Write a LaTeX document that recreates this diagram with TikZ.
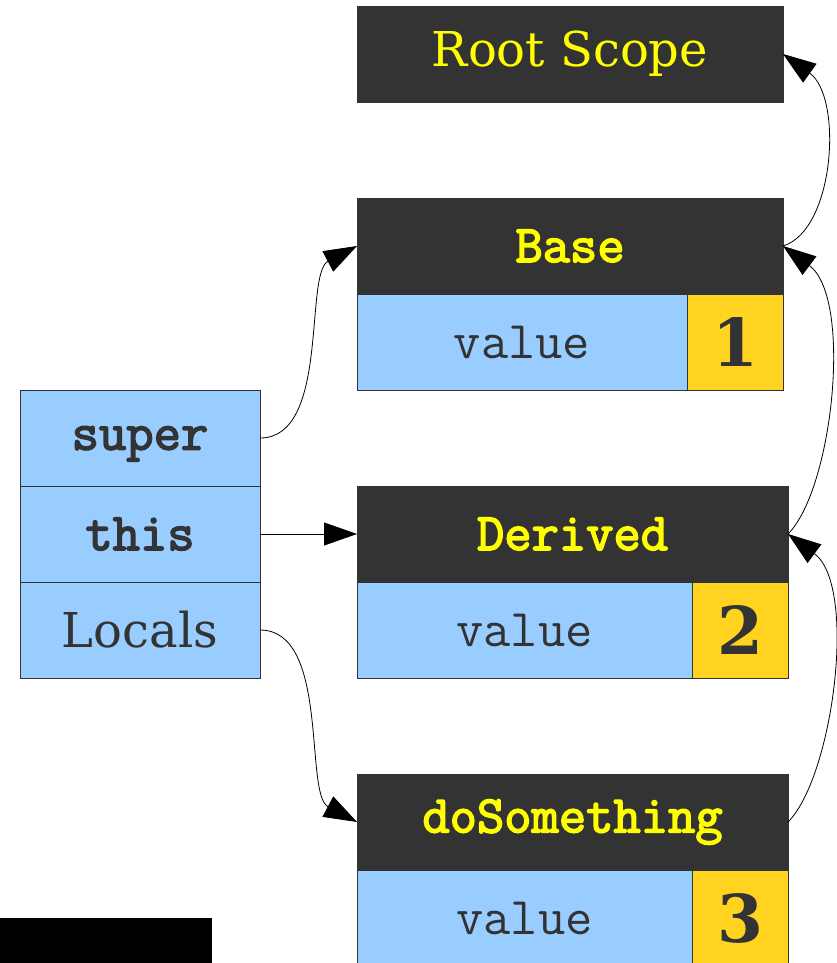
\documentclass[tikz,border=0pt]{standalone}
\usepackage{fontspec}
\setmainfont{DejaVu Serif}
\setmonofont{Latin Modern Mono}[BoldFont={Latin Modern Mono}, BoldFeatures={FakeBold=3}]
\definecolor{scopegray}{HTML}{333333}
\definecolor{slotblue}{HTML}{99CCFF}
\definecolor{valyellow}{HTML}{FFD320}
\definecolor{nameyellow}{HTML}{FFFF00}
\usetikzlibrary{arrows.meta, positioning}
\tikzset{
	scopehead/.style={rectangle, draw=black!80, fill=scopegray, line width=0.8pt, inner sep=0pt, outer sep=0pt, minimum width=426pt, minimum height=96pt, text=nameyellow, font=\ttfamily\bfseries\fontsize{53}{60}\selectfont},
	widehead/.style={scopehead, minimum width=431pt},
	slot/.style={rectangle, draw=black!80, fill=slotblue, line width=0.8pt, inner sep=0pt, outer sep=0pt, minimum width=240pt, minimum height=96pt, text=scopegray, font=\ttfamily\bfseries\fontsize{53}{60}\selectfont},
	valslot/.style={slot, minimum width=330pt, font=\ttfamily\fontsize{53}{60}\selectfont},
	numslot/.style={slot, fill=valyellow, minimum width=96pt, font=\rmfamily\bfseries\fontsize{66}{78}\selectfont},
	link/.style={-{Triangle[length=33pt, width=23pt]}, line width=0.8pt, draw=black},
}
\begin{document}
\begin{tikzpicture}[x=1pt, y=-1pt]
	\useasboundingbox (0,0) rectangle (837,963);
	% scope chain
	\node[scopehead, font=\rmfamily\fontsize{48}{58}\selectfont] (root) at (570,54) {Root Scope};
	\node[scopehead, below right=96pt and 0pt of root.south west] (base) {Base};
	\node[valslot, below right=0pt and 0pt of base.south west] (basevalue) {value};
	\node[numslot, right=0pt of basevalue] (basenum) {1};
	\node[widehead, below right=96pt and 0pt of basevalue.south west] (derived) {Derived};
	\node[valslot, minimum width=335pt, below right=0pt and 0pt of derived.south west] (derivedvalue) {value};
	\node[numslot, right=0pt of derivedvalue] (derivednum) {2};
	\node[widehead, below right=96pt and 0pt of derivedvalue.south west] (dosomething) {doSomething};
	\node[valslot, minimum width=335pt, below right=0pt and 0pt of dosomething.south west] (dosomethingvalue) {value};
	\node[numslot, right=0pt of dosomethingvalue] (dosomethingnum) {3};
	% context
	\node[slot, text depth=0pt, anchor=north west] (super) at (20,390) {super};
	\node[slot, below=0pt of super] (this) {this};
	\node[slot, below=0pt of this, font=\rmfamily\fontsize{48}{58}\selectfont] (locals) {Locals};
	\fill[black] (0,918) rectangle (212,963);
	\draw[link] (super.east) .. controls +(70,0) and +(-53,28) .. (base.west);
	\draw[link] (this) -- (derived);
	\draw[link] (locals.east) .. controls +(70,0) and +(-53,-28) .. (dosomething.west);
	\draw[link] (base.east) .. controls +(52,-16) and +(60,43) .. (root.east);
	\draw[link] (derived.east) .. controls +(45,-45) and +(70,52) .. (base.east);
	\draw[link] (dosomething.east) .. controls +(45,-45) and +(70,52) .. (derived.east);
\end{tikzpicture}
\end{document}
